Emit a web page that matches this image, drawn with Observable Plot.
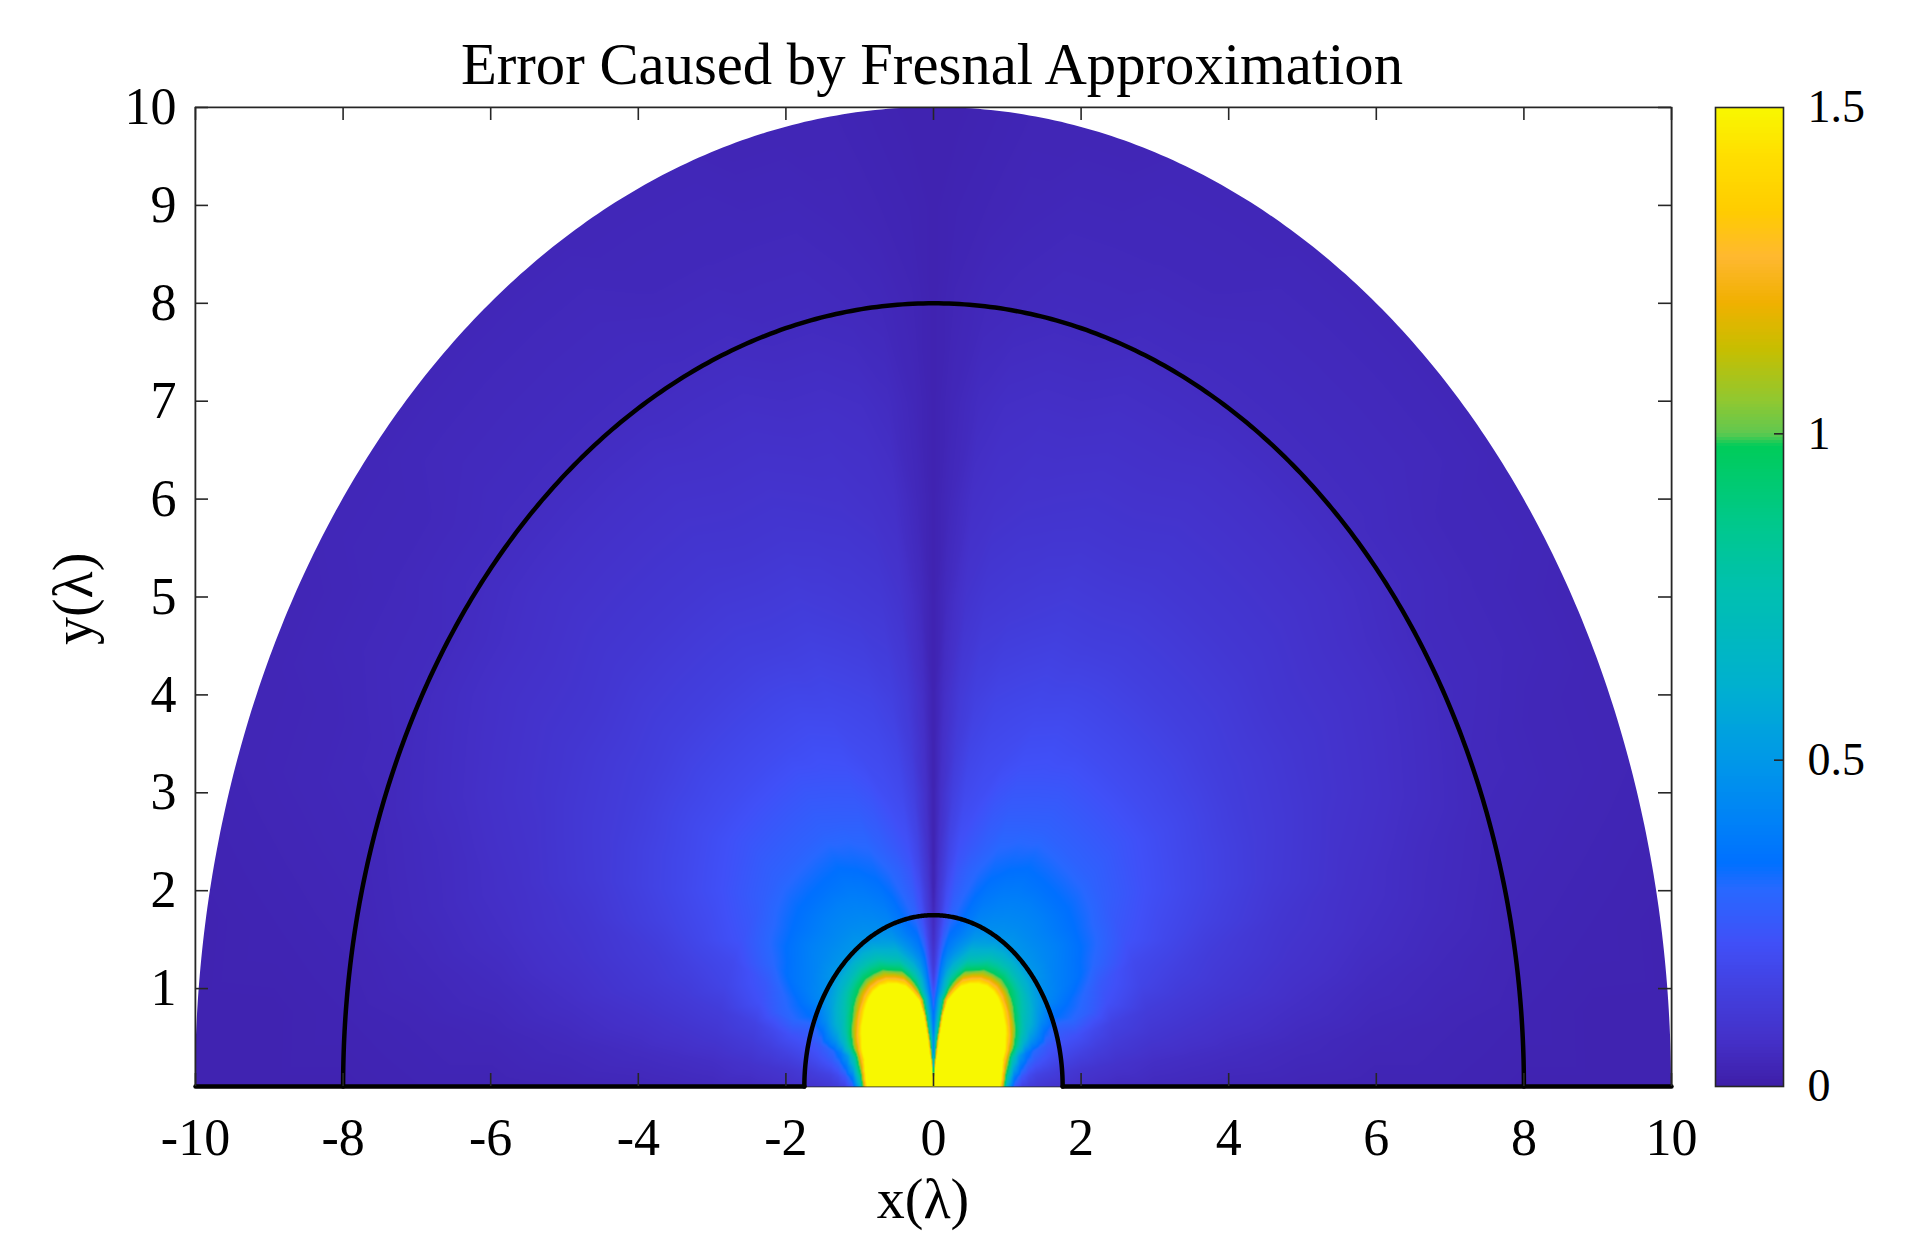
<!DOCTYPE html>
<html><head><meta charset="utf-8">
<script src="https://cdn.jsdelivr.net/npm/d3@7"></script>
<script src="https://cdn.jsdelivr.net/npm/@observablehq/plot@0.6"></script>
<style>
body{margin:0;background:#fff;}
#wrap{position:relative;width:1905px;height:1258px;font-family:"Liberation Serif","Times New Roman",serif;color:#000;overflow:hidden;}
.lbl{position:absolute;white-space:nowrap;line-height:0.85;}
svg{position:absolute;top:0;}
</style></head><body><div id="wrap"></div>
<script>
// ---- data ----
const titleText = "Error Caused by Fresnal Approximation";
const xLabel = "x(λ)";
const yLabel = "y(λ)";
const xTicks = [-10, -8, -6, -4, -2, 0, 2, 4, 6, 8, 10];
const yTicks = [1, 2, 3, 4, 5, 6, 7, 8, 9, 10];
const cbTicks = [0, 0.5, 1, 1.5];
// colour map stops (value -> colour)
const cbStops  = [0, 0.07, 0.15, 0.22, 0.30, 0.34, 0.40, 0.50, 0.61, 0.76, 0.85, 0.98, 1.0, 1.05, 1.13, 1.20, 1.27, 1.34, 1.43, 1.5];
const cbColors = ["#3e1ea8","#4430c8","#4240e0","#4050f8","#2868ff","#0070ff","#0080f8","#0098e8","#00b0d0","#00c0b0","#00c890","#00cc5a","#60c850","#90c830","#c8be00","#f0b000","#ffb830","#ffcc00","#ffe000","#f8f800"];
// sampled field: radius (λ) x angle from +x axis (deg), right half; mirrored to the left
const radii  = [0.1, 0.25, 0.5, 0.75, 0.9, 1.0, 1.1, 1.2, 1.3, 1.4, 1.5, 1.6, 1.75, 2, 2.25, 2.5, 3, 3.5, 4, 5, 6, 7, 8, 9, 10];
const angles = [0, 5, 10, 15, 20, 25, 30, 35, 40, 45, 50, 55, 60, 65, 70, 74, 78, 82, 85, 88, 90];
const errorTable = [
 [2,2,2,2,2,2,2,2,2,2,2,2,2,2,2,2,2,2,1.6,1.0,0.4],
 [2,2,2,2,2,2,2,2,2,2,2,2,2,2,2,2,2,2,1.2,0.8,0.4],
 [2,2,2,2,2,2,2,2,2,2,2,2,2,2,2,2,2,1.35,0.85,0.6,0.38],
 [2,2,2,2,2,2,2,2,2,2,2,2,2,2,2,2,1.9,1.0,0.65,0.45,0.32],
 [1.5,1.7,1.85,2,2,2,2,2,2,2,2,2,2,2,2,2,1.45,0.85,0.58,0.36,0.25],
 [0.6,0.8,1.05,1.3,1.6,1.85,2,2,2,2,2,2,2,2,2,1.45,1.05,0.65,0.48,0.3,0.2],
 [0.25,0.38,0.58,0.8,1.15,1.38,1.6,1.8,1.95,2,2,2,2,1.75,1.45,1.12,0.85,0.6,0.43,0.25,0.15],
 [0.16,0.25,0.37,0.52,0.85,1.05,1.22,1.38,1.55,1.7,1.8,1.75,1.55,1.32,1.12,0.88,0.7,0.52,0.39,0.21,0.12],
 [0.13,0.19,0.28,0.38,0.62,0.8,0.92,1.05,1.18,1.3,1.35,1.3,1.18,1.0,0.88,0.7,0.57,0.46,0.35,0.18,0.1],
 [0.11,0.16,0.24,0.31,0.5,0.64,0.74,0.84,0.94,1.02,1.05,1.0,0.93,0.79,0.7,0.57,0.48,0.4,0.31,0.16,0.08],
 [0.1,0.15,0.22,0.28,0.43,0.56,0.64,0.72,0.8,0.84,0.86,0.82,0.76,0.65,0.59,0.49,0.42,0.36,0.28,0.14,0.06],
 [0.09,0.14,0.2,0.25,0.34,0.46,0.54,0.6,0.65,0.68,0.7,0.67,0.62,0.55,0.5,0.43,0.37,0.33,0.25,0.13,0.05],
 [0.08,0.12,0.18,0.23,0.28,0.36,0.44,0.47,0.5,0.5,0.5,0.5,0.48,0.46,0.43,0.38,0.33,0.29,0.22,0.11,0.04],
 [0.065,0.1,0.16,0.22,0.3,0.34,0.39,0.41,0.43,0.44,0.44,0.44,0.43,0.41,0.38,0.34,0.3,0.26,0.2,0.1,0.02],
 [0.058,0.09,0.14,0.19,0.27,0.3,0.35,0.37,0.39,0.39,0.4,0.4,0.39,0.37,0.34,0.31,0.28,0.24,0.18,0.09,0.02],
 [0.05,0.08,0.12,0.16,0.22,0.25,0.3,0.33,0.34,0.35,0.35,0.35,0.35,0.33,0.31,0.28,0.25,0.22,0.17,0.08,0.02],
 [0.045,0.065,0.1,0.13,0.17,0.19,0.23,0.25,0.27,0.28,0.28,0.28,0.28,0.27,0.26,0.24,0.21,0.19,0.15,0.075,0.02],
 [0.04,0.06,0.09,0.12,0.15,0.18,0.2,0.22,0.23,0.24,0.24,0.24,0.24,0.23,0.22,0.2,0.19,0.17,0.13,0.07,0.02],
 [0.035,0.055,0.08,0.11,0.13,0.16,0.18,0.19,0.2,0.2,0.2,0.2,0.2,0.2,0.19,0.18,0.17,0.15,0.12,0.065,0.02],
 [0.03,0.045,0.065,0.085,0.1,0.12,0.13,0.135,0.14,0.145,0.145,0.145,0.145,0.14,0.14,0.13,0.12,0.11,0.09,0.05,0.02],
 [0.025,0.035,0.05,0.065,0.075,0.085,0.095,0.1,0.1,0.105,0.105,0.105,0.105,0.1,0.1,0.095,0.09,0.08,0.07,0.04,0.02],
 [0.025,0.03,0.04,0.05,0.055,0.065,0.07,0.075,0.075,0.08,0.08,0.08,0.08,0.075,0.075,0.07,0.07,0.065,0.055,0.035,0.02],
 [0.02,0.025,0.03,0.035,0.04,0.045,0.05,0.05,0.055,0.055,0.055,0.055,0.055,0.055,0.055,0.05,0.05,0.045,0.04,0.03,0.02],
 [0.02,0.02,0.025,0.03,0.035,0.035,0.04,0.04,0.04,0.045,0.045,0.045,0.045,0.04,0.04,0.04,0.04,0.035,0.03,0.025,0.02],
 [0.02,0.02,0.02,0.025,0.03,0.03,0.03,0.035,0.035,0.035,0.035,0.035,0.035,0.035,0.035,0.03,0.03,0.03,0.025,0.02,0.02]
];
const contourRadii = [1.75, 8];   // black boundary semicircles
const outerRadius = 10;           // extent of the computed region

// ---- tables built for the library ----
const rad = Math.PI / 180;
const fieldPoints = [];
radii.forEach((r, i) => angles.forEach((a, j) => {
  const v = errorTable[i][j];
  if (v === undefined) return;
  fieldPoints.push({x: r * Math.cos(a * rad), y: r * Math.sin(a * rad), v});
  if (a !== 90) fieldPoints.push({x: -r * Math.cos(a * rad), y: r * Math.sin(a * rad), v});
}));
const arcAngles = d3.range(180, -0.001, -0.5);
const outerArc = arcAngles.map(a => ({x: outerRadius * Math.cos(a * rad), y: outerRadius * Math.sin(a * rad)}));
const contourLines = [];
contourRadii.forEach(r => arcAngles.forEach(a => contourLines.push({g: "r" + r, x: r * Math.cos(a * rad), y: r * Math.sin(a * rad)})));
contourLines.push({g: "bl", x: -outerRadius, y: 0}, {g: "bl", x: -contourRadii[0], y: 0});
contourLines.push({g: "br", x: contourRadii[0], y: 0}, {g: "br", x: outerRadius, y: 0});

// ---- layout ----
const W = 1905, H = 1258, mL = 195, mR = W - 1671, mT = 107, mB = H - 1086;
const fW = W - mL - mR, fH = H - mT - mB;
const tick = 13, axisColor = "#262626";
const font = "'Liberation Serif','Times New Roman',serif";
const colorScale = {type: "linear", domain: cbStops, range: cbColors, clamp: true, interpolate: "rgb"};

const main = Plot.plot({
  width: W, height: H, marginLeft: mL, marginRight: mR, marginTop: mT, marginBottom: mB,
  style: {fontFamily: font, background: "transparent", color: "#000"},
  x: {domain: [-10, 10]},
  y: {domain: [0, 10]},
  color: colorScale,
  marks: [
    Plot.frame({stroke: axisColor, strokeWidth: 1.6}),
    Plot.raster(fieldPoints, {x: "x", y: "y", fill: "v", interpolate: "barycentric", x1: -10, x2: 10, y1: 0, y2: 10}),
    Plot.areaY(outerArc, {x: "x", y1: "y", y2: 10, fill: "white"}),
    Plot.ruleY([10], {stroke: axisColor, strokeWidth: 1.6}),
    Plot.ruleX([-10, 10], {stroke: axisColor, strokeWidth: 1.6}),
    Plot.line(contourLines, {x: "x", y: "y", z: "g", stroke: "black", strokeWidth: 4.5}),
    Plot.ruleX(xTicks, {insetTop: fH - tick, stroke: axisColor, strokeWidth: 1.6}),
    Plot.ruleX(xTicks, {insetBottom: fH - tick, stroke: axisColor, strokeWidth: 1.6}),
    Plot.ruleY(yTicks, {insetRight: fW - tick, stroke: axisColor, strokeWidth: 1.6}),
    Plot.ruleY(yTicks, {insetLeft: fW - tick, stroke: axisColor, strokeWidth: 1.6}),
    Plot.axisX({anchor: "bottom", ticks: xTicks, tickSize: 0, tickPadding: 32, fontSize: 52, tickFormat: d => String(d), label: null}),
    Plot.axisY({anchor: "left", ticks: yTicks, tickSize: 0, tickPadding: 19, fontSize: 52, tickFormat: d => String(d), label: null})
  ]
});

const step = 0.005;
const ramp = d3.range(0, 1.5, step);
const cbLeft = 1710, cbML = 5, cbW = 1783 - 1715;
const bar = Plot.plot({
  width: 190, height: H, marginLeft: cbML, marginRight: 190 - cbML - cbW, marginTop: mT, marginBottom: mB,
  style: {fontFamily: font, background: "transparent", color: "#000"},
  x: {domain: [0, 1], axis: null},
  y: {domain: [0, 1.5], axis: null},
  color: colorScale,
  marks: [
    Plot.rect(ramp, {x1: 0, x2: 1, y1: d => d, y2: d => Math.min(1.5, d + step * 1.6), fill: d => d + step / 2, shapeRendering: "crispEdges"}),
    Plot.frame({stroke: axisColor, strokeWidth: 1.6}),
    Plot.ruleY([0.5, 1], {insetLeft: cbW - 9, stroke: axisColor, strokeWidth: 1.6}),
    Plot.axisY({anchor: "right", ticks: cbTicks, tickSize: 0, tickPadding: 24, fontSize: 46, tickFormat: d => String(d), label: null})
  ]
});

const wrap = document.getElementById("wrap");
main.style.left = "0px";
bar.style.left = cbLeft + "px";
wrap.appendChild(main);
wrap.appendChild(bar);

const LH = 0.85;
function addLabel(text, size, cx, baseline, rotate) {
  const d = document.createElement("div");
  d.className = "lbl";
  d.textContent = text;
  d.style.fontSize = size + "px";
  wrap.appendChild(d);
  const w = d.getBoundingClientRect().width;
  // baseline offset inside the line box (Liberation Serif ascent .891, descent .216)
  const base = size * (0.891 + (LH - 1.107) / 2);
  const top = baseline - base;
  d.style.left = (cx - w / 2) + "px";
  if (!rotate) {
    d.style.top = top + "px";
  } else {
    d.style.top = (baseline - size * LH / 2) + "px";
    d.style.transform = "rotate(-90deg)";
    d.style.transformOrigin = "50% 50%";
  }
}
addLabel(titleText, 58.7, 932, 85, false);
addLabel(xLabel, 56, 923, 1219, false);
addLabel(yLabel, 56, 74, 599, true);
</script></body></html>
